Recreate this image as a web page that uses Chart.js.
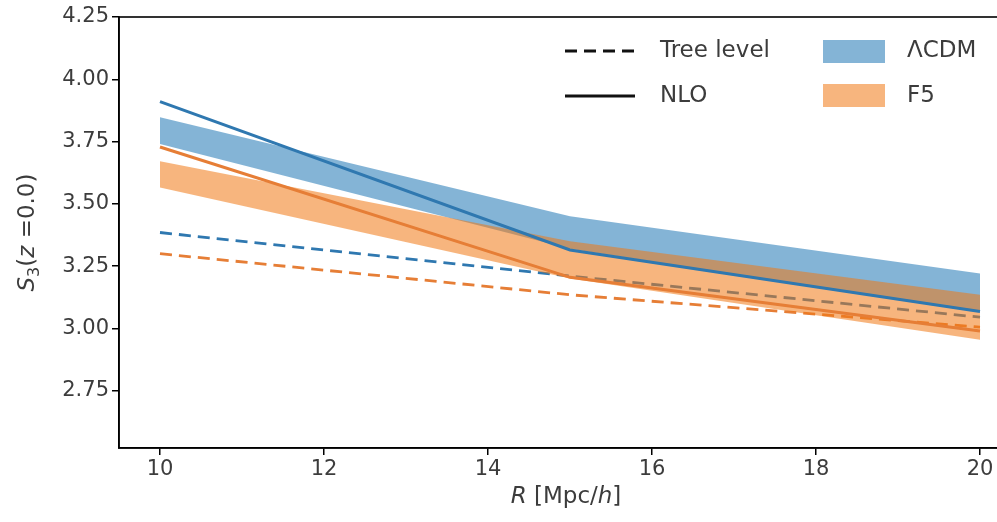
<!DOCTYPE html>
<html>
<head>
<meta charset="utf-8">
<script src="https://cdn.jsdelivr.net/npm/chart.js@4/dist/chart.umd.min.js"></script>
<style>
  html, body { margin: 0; padding: 0; background: #fff; overflow: hidden; }
  #wrap { width: 1021px; height: 522px; }
</style>
</head>
<body>
<div id="wrap"><canvas id="s3-chart" width="1021" height="522"></canvas></div>
<script>
// smoothing radius R [Mpc/h]
const radii = [10, 15, 20];
const xTickValues = [10, 12, 14, 16, 18, 20];
const yTickValues = [2.75, 3.00, 3.25, 3.50, 3.75, 4.00, 4.25];

// tree level (dashed)
const lcdmTree = [3.385, 3.21, 3.045];
const f5Tree = [3.30, 3.135, 3.005];

// NLO (solid)
const lcdmNlo = [3.91, 3.315, 3.068];
const f5Nlo = [3.728, 3.205, 2.99];

// simulation bands
const lcdmLow = [3.74, 3.32, 3.065];
const lcdmHigh = [3.848, 3.45, 3.22];
const f5Low = [3.566, 3.20, 2.955];
const f5High = [3.671, 3.35, 3.135];

const lineLabels = ['Tree level', 'NLO'];
const modelLabels = ['ΛCDM', 'F5'];

const BLUE = '#2f78b0';
const ORANGE = '#e67e36';
const BLUE_FILL = 'rgba(31, 119, 180, 0.55)';
const ORANGE_FILL = 'rgba(240, 120, 20, 0.55)';
const FONT = '"DejaVu Sans", sans-serif';
const TEXT = '#3c3c3c';
const DASH = [12, 7];

function toPoints(ys) {
  return radii.map((r, i) => ({ x: r, y: ys[i] }));
}

// draws a run of [text, style] pieces centred on the current origin
function richText(ctx, parts, size) {
  const fontFor = (style) => {
    if (style === 'i') return `italic ${size}px ${FONT}`;
    if (style === 'sub') return `${Math.round(size * 0.7)}px ${FONT}`;
    return `${size}px ${FONT}`;
  };
  let total = 0;
  parts.forEach(p => { ctx.font = fontFor(p[1]); total += ctx.measureText(p[0]).width; });
  let x = -total / 2;
  parts.forEach(p => {
    ctx.font = fontFor(p[1]);
    ctx.fillText(p[0], x, p[1] === 'sub' ? size * 0.28 : 0);
    x += ctx.measureText(p[0]).width;
  });
}

const decorations = {
  id: 'decorations',
  afterDraw(chart) {
    const ctx = chart.ctx;
    const area = chart.chartArea;
    ctx.save();

    // frame
    ctx.strokeStyle = '#000';
    ctx.lineWidth = 1.6;
    ctx.strokeRect(area.left, area.top, area.right - area.left, area.bottom - area.top);

    // axis titles
    ctx.fillStyle = TEXT;
    ctx.textBaseline = 'middle';
    ctx.textAlign = 'left';
    ctx.save();
    ctx.translate((area.left + area.right) / 2 - 4, 497);
    richText(ctx, [['R', 'i'], [' [Mpc/', ''], ['h', 'i'], [']', '']], 23);
    ctx.restore();
    ctx.save();
    ctx.translate(28, (area.top + area.bottom) / 2);
    ctx.rotate(-Math.PI / 2);
    richText(ctx, [['S', 'i'], ['3', 'sub'], ['(', ''], ['z', 'i'], [' =0.0)', '']], 23);
    ctx.restore();

    // legend
    ctx.font = `23px ${FONT}`;
    const rows = [area.top + 34, area.top + 79];
    ctx.strokeStyle = '#111';
    ctx.lineWidth = 2.8;
    ctx.setLineDash(DASH);
    ctx.beginPath(); ctx.moveTo(565, rows[0]); ctx.lineTo(635, rows[0]); ctx.stroke();
    ctx.setLineDash([]);
    ctx.lineWidth = 3;
    ctx.beginPath(); ctx.moveTo(565, rows[1]); ctx.lineTo(635, rows[1]); ctx.stroke();
    ctx.fillStyle = TEXT;
    ctx.fillText(lineLabels[0], 660, rows[0]);
    ctx.fillText(lineLabels[1], 660, rows[1]);

    ctx.fillStyle = BLUE_FILL;
    ctx.fillRect(823, rows[0] - 11, 62, 23);
    ctx.fillStyle = ORANGE_FILL;
    ctx.fillRect(823, rows[1] - 12, 62, 23);
    ctx.fillStyle = TEXT;
    ctx.fillText(modelLabels[0], 907, rows[0]);
    ctx.fillText(modelLabels[1], 907, rows[1]);
    ctx.restore();
  }
};

const lineDefaults = { pointRadius: 0, tension: 0, fill: false };

new Chart(document.getElementById('s3-chart'), {
  type: 'line',
  data: {
    datasets: [
      { ...lineDefaults, label: 'ΛCDM tree', data: toPoints(lcdmTree), borderColor: BLUE, borderWidth: 2.8, borderDash: DASH, order: 4 },
      { ...lineDefaults, label: 'F5 tree', data: toPoints(f5Tree), borderColor: ORANGE, borderWidth: 2.8, borderDash: DASH, order: 4 },
      { ...lineDefaults, label: 'ΛCDM high', data: toPoints(lcdmHigh), borderColor: 'transparent', borderWidth: 0, backgroundColor: BLUE_FILL, fill: '+1', order: 3 },
      { ...lineDefaults, label: 'ΛCDM low', data: toPoints(lcdmLow), borderColor: 'transparent', borderWidth: 0, order: 3 },
      { ...lineDefaults, label: 'F5 high', data: toPoints(f5High), borderColor: 'transparent', borderWidth: 0, backgroundColor: ORANGE_FILL, fill: '+1', order: 2 },
      { ...lineDefaults, label: 'F5 low', data: toPoints(f5Low), borderColor: 'transparent', borderWidth: 0, order: 2 },
      { ...lineDefaults, label: 'ΛCDM NLO', data: toPoints(lcdmNlo), borderColor: BLUE, borderWidth: 3, order: 1 },
      { ...lineDefaults, label: 'F5 NLO', data: toPoints(f5Nlo), borderColor: ORANGE, borderWidth: 3, order: 1 }
    ]
  },
  options: {
    responsive: false,
    animation: false,
    devicePixelRatio: 1,
    layout: { padding: { top: 17, left: 0, right: 0, bottom: 0 } },
    plugins: { legend: { display: false }, tooltip: { enabled: false } },
    scales: {
      x: {
        type: 'linear',
        min: 9.5,
        max: 20.5,
        afterBuildTicks: s => { s.ticks = xTickValues.map(v => ({ value: v })); },
        afterFit: s => { s.height = 74; },
        grid: { drawOnChartArea: false, drawTicks: true, tickLength: 7, color: '#000', lineWidth: 1.5 },
        border: { display: true, color: '#000', width: 1.6 },
        ticks: { color: TEXT, font: { family: FONT, size: 21 }, padding: 2, maxRotation: 0, autoSkip: false, callback: v => String(v) }
      },
      y: {
        min: 2.52,
        max: 4.25,
        afterBuildTicks: s => { s.ticks = yTickValues.map(v => ({ value: v })); },
        afterFit: s => { s.width = 119; },
        grid: { drawOnChartArea: false, drawTicks: true, tickLength: 7, color: '#000', lineWidth: 1.5 },
        border: { display: true, color: '#000', width: 1.6 },
        ticks: { color: TEXT, font: { family: FONT, size: 21 }, padding: 3, autoSkip: false, callback: v => v.toFixed(2) }
      }
    }
  },
  plugins: [decorations]
});
</script>
</body>
</html>
